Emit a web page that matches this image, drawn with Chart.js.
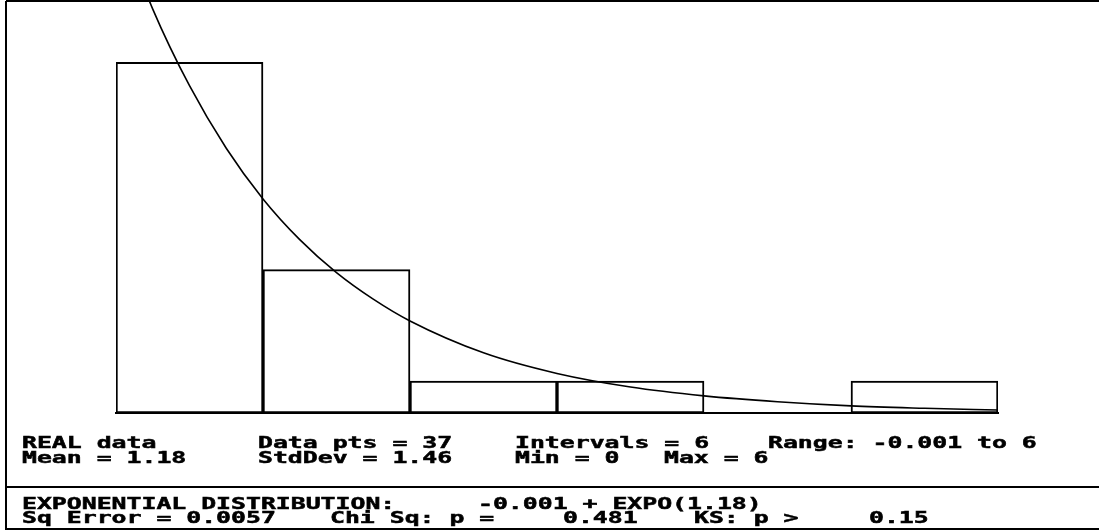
<!DOCTYPE html>
<html lang="en">
<head>
  <meta charset="UTF-8">
  <title>Exponential Fit</title>
  <script src="https://cdn.jsdelivr.net/npm/chart.js"></script>
  <style>
    html, body { margin: 0; padding: 0; background: #fff; }
    #wrap { width: 1099px; height: 531px; position: relative; }
  </style>
</head>
<body>
  <div id="wrap"><canvas id="histChart"></canvas></div>

  <script>
    // Histogram: 6 intervals of width 1, relative frequency (37 points)
    const binCenters = [0.5, 1.5, 2.5, 3.5, 4.5, 5.5];
    const binCounts = [22, 9, 2, 2, 0, 2];
    const totalPts = 37;

    // Fitted exponential density
    const curveX = [0, 0.25, 0.5, 0.75, 1, 1.25, 1.5, 1.75, 2, 2.5, 3, 3.5, 4, 4.5, 5, 5.5, 6];
    const curveY = [0.847, 0.685, 0.555, 0.449, 0.363, 0.294, 0.238, 0.193, 0.156, 0.102, 0.067, 0.044, 0.029, 0.019, 0.012, 0.008, 0.005];

    // Summary lines under the plot
    const statsRow1 = ['REAL data', 'Data pts = 37', 'Intervals = 6', 'Range: -0.001 to 6'];
    const statsRow2 = ['Mean = 1.18', 'StdDev = 1.46', 'Min = 0', 'Max = 6'];
    const fitRow1 = ['EXPONENTIAL DISTRIBUTION:', '-0.001 + EXPO(1.18)'];
    const fitRow2 = ['Sq Error = 0.0057', 'Chi Sq: p =', '0.481', 'KS: p >', '0.15'];

    // where each text block goes: [row, x list, baseline y]
    const textLayout = [
      [statsRow1, [22, 258, 515, 768], 448],
      [statsRow2, [22, 258, 515, 664], 463],
      [fitRow1, [22, 478], 509],
      [fitRow2, [22, 330, 563, 694, 869], 523]
    ];

    const FONT = 'bold 16px "DejaVu Sans Mono"';
    const STRETCH = 1.55;

    // frame lines and text panel
    const panelPlugin = {
      id: 'panel',
      afterDraw(chart) {
        const ctx = chart.ctx;
        ctx.save();
        ctx.strokeStyle = '#000';
        ctx.lineWidth = 2;
        ctx.beginPath();
        ctx.moveTo(6, 1); ctx.lineTo(6, 530);
        ctx.moveTo(6, 1); ctx.lineTo(1099, 1);
        ctx.moveTo(6, 487); ctx.lineTo(1099, 487);
        ctx.moveTo(6, 529); ctx.lineTo(1099, 529);
        ctx.stroke();

        ctx.fillStyle = '#000';
        ctx.font = FONT;
        ctx.lineWidth = 0.5;
        ctx.textBaseline = 'alphabetic';
        textLayout.forEach(([row, xs, y]) => {
          row.forEach((txt, i) => {
            ctx.save();
            ctx.translate(xs[i], y);
            ctx.scale(STRETCH, 1);
            ctx.fillText(txt, 0, 0);
            ctx.strokeText(txt, 0, 0);
            ctx.restore();
          });
        });
        ctx.restore();
      }
    };

    const ctx = document.getElementById('histChart').getContext('2d');
    const chart = new Chart(ctx, {
      data: {
        datasets: [
          {
            type: 'line',
            data: curveX.map((x, i) => ({ x, y: curveY[i] })),
            borderColor: '#000',
            borderWidth: 1.6,
            pointRadius: 0,
            cubicInterpolationMode: 'monotone',
            fill: false
          },
          {
            type: 'bar',
            data: binCenters.map((x, i) => ({ x, y: binCounts[i] / totalPts })),
            backgroundColor: '#fff',
            borderColor: '#000',
            borderWidth: 2,
            borderSkipped: false,
            barPercentage: 1,
            categoryPercentage: 1
          }
        ]
      },
      options: {
        responsive: true,
        maintainAspectRatio: false,
        animation: false,
        layout: { padding: { left: 116, right: 101, top: 2, bottom: 110 } },
        plugins: {
          legend: { display: false },
          tooltip: { enabled: false }
        },
        scales: {
          x: {
            type: 'linear',
            min: 0,
            max: 6,
            offset: false,
            grid: { display: false },
            ticks: { display: false },
            border: { display: true, color: '#000', width: 2 }
          },
          y: {
            min: 0,
            max: 0.697,
            display: false
          }
        }
      },
      plugins: [panelPlugin]
    });
  </script>
</body>
</html>
